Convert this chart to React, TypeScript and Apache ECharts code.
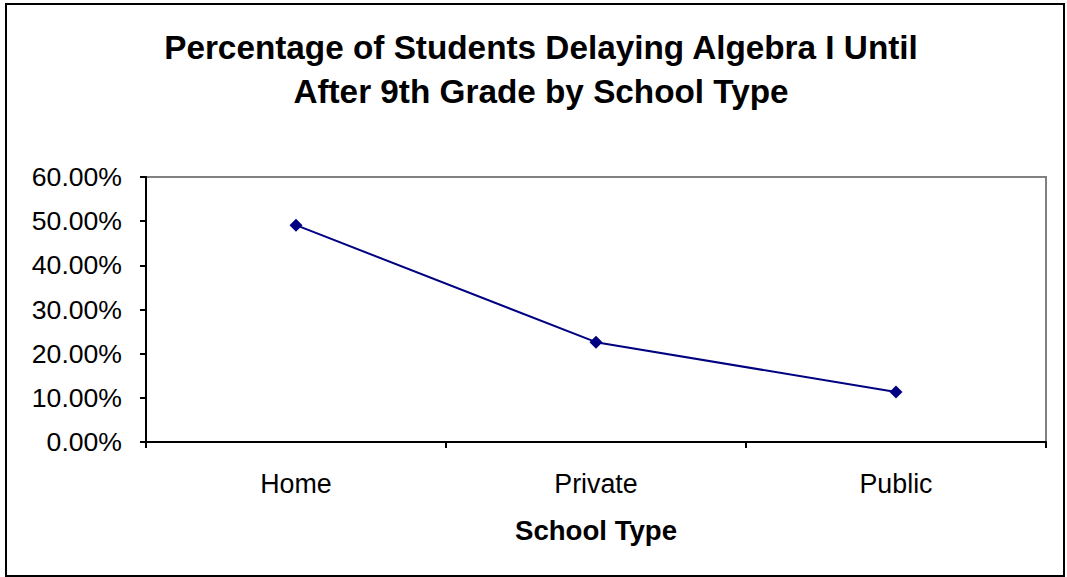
import React, { useEffect, useRef } from "react";
import * as echarts from "echarts";

const titleLines = ["Percentage of Students Delaying Algebra I Until", "After 9th Grade by School Type"];
const categories = ["Home", "Private", "Public"];
const values = [49.1, 22.6, 11.3];
const yMin = 0;
const yMax = 60;
const yInterval = 10;
const xAxisName = "School Type";

export default function App() {
  const ref = useRef<HTMLDivElement>(null);
  useEffect(() => {
    if (!ref.current) return;
    const chart = echarts.init(ref.current, null, { renderer: "svg" });
    const font = "'Liberation Sans', Arial, sans-serif";
    chart.setOption({
      animation: false,
      backgroundColor: "#ffffff",
      textStyle: { fontFamily: font },
      title: {
        text: titleLines.join("\n"),
        left: 536,
        top: 20,
        textAlign: "center",
        textStyle: { fontFamily: font, fontSize: 33.3, fontWeight: "bold", color: "#000", lineHeight: 44 },
      },
      graphic: [
        {
          type: "rect",
          shape: { x: 6, y: 4, width: 1058, height: 572 },
          style: { fill: "none", stroke: "#000", lineWidth: 2 },
          silent: true,
        },
      ],
      grid: {
        left: 146,
        right: 21,
        top: 177,
        bottom: 135,
        show: true,
        borderColor: "#808080",
        borderWidth: 2,
        backgroundColor: "transparent",
      },
      xAxis: {
        type: "category",
        data: categories,
        boundaryGap: true,
        name: xAxisName,
        nameLocation: "middle",
        nameGap: 88,
        nameTextStyle: { fontFamily: font, fontSize: 27.6, fontWeight: "bold", color: "#000", verticalAlign: "middle" },
        axisLine: { show: true, lineStyle: { color: "#000", width: 2 } },
        axisTick: { show: true, alignWithLabel: false, length: 6, lineStyle: { color: "#000", width: 2 } },
        axisLabel: { fontFamily: font, fontSize: 26.8, color: "#000", margin: 28 },
        splitLine: { show: false },
      },
      yAxis: {
        type: "value",
        min: yMin,
        max: yMax,
        interval: yInterval,
        axisLine: { show: true, lineStyle: { color: "#000", width: 2 } },
        axisTick: { show: true, length: 6, lineStyle: { color: "#000", width: 2 } },
        axisLabel: {
          fontFamily: font,
          fontSize: 26.6,
          color: "#000",
          margin: 24,
          formatter: (v: number) => v.toFixed(2) + "%",
        },
        splitLine: { show: false },
      },
      series: [
        {
          type: "line",
          data: values,
          symbol: "diamond",
          symbolSize: 13,
          lineStyle: { color: "#000080", width: 2 },
          itemStyle: { color: "#000080" },
        },
      ],
    });
    return () => chart.dispose();
  }, []);
  return <div ref={ref} style={{ position: "absolute", left: 0, top: 0, width: 1067, height: 577 }} />;
}
